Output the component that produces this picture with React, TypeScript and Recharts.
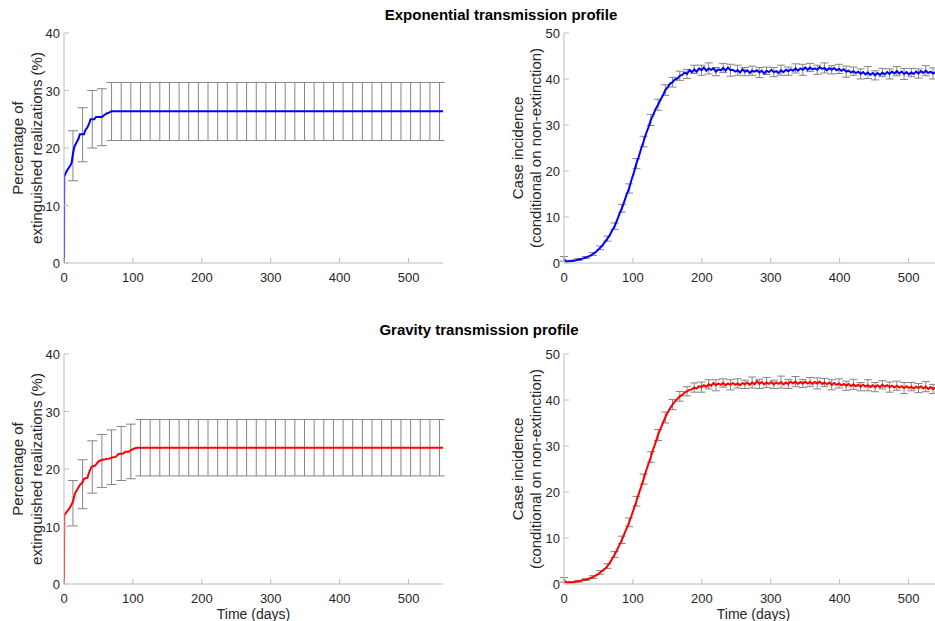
import React from "react";
import { ComposedChart, ErrorBar, Line, XAxis, YAxis } from "recharts";

const FONT = '"Liberation Sans", Arial, Helvetica, sans-serif';
const TEXT = "#262626";
const AXIS_GRAY = "#bdbdbd";
const BAR_GRAY = "#858585";
const BLUE = "#0000ff";
const RED = "#ff0000";

// axis ticks
const dayTicks = [0, 100, 200, 300, 400, 500];
const pctTicks = [0, 10, 20, 30, 40];
const caseTicks = [0, 10, 20, 30, 40, 50];

// percentage of extinguished realizations, exponential profile
const expExtDays = [0, 0.3, 3, 6, 9, 11, 13, 15, 18, 21, 23, 29, 31, 34, 37, 38.5, 44, 46.5, 55, 58, 62, 66, 69, 550];
const expExtPct = [0, 15.0, 15.8, 16.4, 16.9, 17.4, 19.0, 20.2, 20.9, 21.6, 22.4, 22.4, 23.1, 23.6, 24.4, 25.0, 25.0, 25.4, 25.4, 25.7, 26.0, 26.2, 26.4, 26.4];

// percentage of extinguished realizations, gravity profile
const gravExtDays = [0, 0.3, 3, 7, 10, 13, 15, 17, 20, 23, 27, 29, 34, 37, 40, 45, 48, 51, 56, 65, 70, 75, 79, 86, 89, 94, 97, 103, 106, 550];
const gravExtPct = [0, 11.9, 12.4, 13.0, 13.6, 14.3, 15.4, 16.0, 16.6, 17.2, 17.7, 18.3, 18.5, 19.6, 20.4, 20.6, 21.0, 21.4, 21.6, 21.8, 22.0, 22.1, 22.6, 22.7, 23.0, 23.0, 23.3, 23.6, 23.7, 23.7];

// error bars on the extinction curves (every two weeks)
const extErrDays = [13, 27, 41, 55, 69, 83, 97, 111, 125, 139, 153, 167, 181, 195, 209, 223, 237, 251, 265, 279, 293, 307, 321, 335, 349, 363, 377, 391, 405, 419, 433, 447, 461, 475, 489, 503, 517, 531, 545];
const expExtLow = [14.3, 17.6, 20.0, 20.4, 21.3, 21.3, 21.3, 21.3, 21.3, 21.3, 21.3, 21.3, 21.3, 21.3, 21.3, 21.3, 21.3, 21.3, 21.3, 21.3, 21.3, 21.3, 21.3, 21.3, 21.3, 21.3, 21.3, 21.3, 21.3, 21.3, 21.3, 21.3, 21.3, 21.3, 21.3, 21.3, 21.3, 21.3, 21.3];
const expExtHigh = [23.0, 27.0, 30.0, 30.3, 31.4, 31.4, 31.4, 31.4, 31.4, 31.4, 31.4, 31.4, 31.4, 31.4, 31.4, 31.4, 31.4, 31.4, 31.4, 31.4, 31.4, 31.4, 31.4, 31.4, 31.4, 31.4, 31.4, 31.4, 31.4, 31.4, 31.4, 31.4, 31.4, 31.4, 31.4, 31.4, 31.4, 31.4, 31.4];
const gravExtLow = [10.1, 13.1, 15.8, 16.8, 17.3, 18.0, 18.3, 18.8, 18.8, 18.8, 18.8, 18.8, 18.8, 18.8, 18.8, 18.8, 18.8, 18.8, 18.8, 18.8, 18.8, 18.8, 18.8, 18.8, 18.8, 18.8, 18.8, 18.8, 18.8, 18.8, 18.8, 18.8, 18.8, 18.8, 18.8, 18.8, 18.8, 18.8, 18.8];
const gravExtHigh = [18.0, 21.6, 24.9, 26.0, 26.8, 27.4, 27.8, 28.6, 28.6, 28.6, 28.6, 28.6, 28.6, 28.6, 28.6, 28.6, 28.6, 28.6, 28.6, 28.6, 28.6, 28.6, 28.6, 28.6, 28.6, 28.6, 28.6, 28.6, 28.6, 28.6, 28.6, 28.6, 28.6, 28.6, 28.6, 28.6, 28.6, 28.6, 28.6];

// case incidence, conditional on non-extinction
const incDays = [
  0, 3.5, 7, 10.5, 14, 17.5, 21, 24.5, 28, 31.5,
  35, 38.5, 42, 45.5, 49, 52.5, 56, 59.5, 63, 66.5,
  70, 73.5, 77, 80.5, 84, 87.5, 91, 94.5, 98, 101.5,
  105, 108.5, 112, 115.5, 119, 122.5, 126, 129.5, 133, 136.5,
  140, 143.5, 147, 150.5, 154, 157.5, 161, 164.5, 168, 171.5,
  175, 178.5, 182, 185.5, 189, 192.5, 196, 199.5, 203, 206.5,
  210, 213.5, 217, 220.5, 224, 227.5, 231, 234.5, 238, 241.5,
  245, 248.5, 252, 255.5, 259, 262.5, 266, 269.5, 273, 276.5,
  280, 283.5, 287, 290.5, 294, 297.5, 301, 304.5, 308, 311.5,
  315, 318.5, 322, 325.5, 329, 332.5, 336, 339.5, 343, 346.5,
  350, 353.5, 357, 360.5, 364, 367.5, 371, 374.5, 378, 381.5,
  385, 388.5, 392, 395.5, 399, 402.5, 406, 409.5, 413, 416.5,
  420, 423.5, 427, 430.5, 434, 437.5, 441, 444.5, 448, 451.5,
  455, 458.5, 462, 465.5, 469, 472.5, 476, 479.5, 483, 486.5,
  490, 493.5, 497, 500.5, 504, 507.5, 511, 514.5, 518, 521.5,
  525, 528.5, 532, 535.5, 539,
];
const expInc = [
  0.9, 0.3, 0.4, 0.45, 0.55, 0.6, 0.75, 0.85, 1.0, 1.2,
  1.4, 1.6, 1.95, 2.3, 2.8, 3.3, 3.9, 4.6, 5.3, 6.1,
  7.1, 8.0, 9.3, 10.7, 11.9, 13.4, 14.9, 16.2, 18.1, 19.7,
  21.6, 23.1, 24.9, 26.4, 28.1, 29.5, 31.1, 32.2, 33.5, 34.4,
  35.5, 36.4, 37.6, 38.2, 39.0, 39.3, 39.9, 40.1, 40.7, 40.9,
  41.4, 41.1, 41.9, 41.5, 42.1, 41.6, 42.3, 41.9, 42.5, 41.8,
  42.3, 42.0, 42.3, 41.6, 42.1, 41.9, 42.4, 41.8, 42.5, 41.9,
  42.0, 41.6, 41.9, 41.4, 42.1, 41.6, 41.9, 41.3, 41.8, 41.6,
  41.9, 41.4, 41.8, 41.2, 41.8, 41.5, 42.0, 41.5, 41.7, 41.3,
  41.9, 41.5, 42.0, 41.7, 42.1, 41.8, 42.3, 41.8, 42.3, 42.0,
  42.5, 42.0, 42.5, 42.1, 42.3, 42.0, 42.6, 42.2, 42.4, 41.9,
  42.4, 42.0, 42.4, 41.9, 42.2, 41.8, 42.1, 41.6, 41.8, 41.4,
  41.7, 41.3, 41.6, 41.1, 41.5, 41.0, 41.4, 40.9, 41.3, 40.8,
  41.3, 40.9, 41.4, 41.0, 41.5, 41.1, 41.6, 41.2, 41.7, 41.2,
  41.6, 41.1, 41.5, 41.0, 41.4, 41.1, 41.6, 41.2, 41.7, 41.3,
  41.8, 41.3, 41.6, 41.2, 41.5,
];
const gravInc = [
  0.9, 0.3, 0.35, 0.4, 0.45, 0.55, 0.6, 0.7, 0.85, 0.95,
  1.1, 1.3, 1.5, 1.8, 2.1, 2.5, 2.9, 3.3, 3.9, 4.6,
  5.5, 6.4, 7.4, 8.5, 9.6, 10.9, 12.1, 13.4, 14.9, 16.4,
  18.0, 19.6, 21.2, 22.8, 24.5, 26.1, 27.6, 29.3, 30.8, 32.4,
  33.7, 35.0, 36.2, 37.3, 38.2, 39.0, 39.7, 40.2, 40.8, 41.1,
  41.6, 41.9, 42.2, 42.3, 42.7, 42.5, 43.0, 42.8, 43.2, 42.9,
  43.4, 43.1, 43.7, 43.2, 43.6, 43.3, 43.7, 43.2, 43.6, 43.3,
  43.7, 43.3, 43.6, 43.2, 43.7, 43.4, 43.8, 43.3, 43.8, 43.4,
  44.1, 43.5, 43.9, 43.4, 43.8, 43.5, 43.9, 43.4, 43.8, 43.5,
  43.9, 43.4, 43.8, 43.5, 44.0, 43.6, 44.0, 43.5, 43.9, 43.6,
  44.0, 43.6, 43.9, 43.5, 43.9, 43.6, 44.0, 43.5, 43.8, 43.4,
  43.8, 43.3, 43.7, 43.3, 43.6, 43.2, 43.5, 43.1, 43.5, 43.0,
  43.4, 43.0, 43.3, 42.9, 43.3, 42.9, 43.2, 42.8, 43.2, 42.8,
  43.2, 42.8, 43.3, 42.9, 43.2, 42.8, 43.1, 42.7, 43.1, 42.7,
  43.0, 42.6, 43.0, 42.6, 42.9, 42.5, 42.9, 42.6, 43.0, 42.5,
  42.9, 42.4, 42.8, 42.4, 42.7,
];

// error bar half-widths on incidence, at every third entry of incDays
const expIncErr = [
  0.5, 0.15, 0.2, 0.2, 0.3, 0.4, 0.55, 0.7, 0.85, 1.0,
  1.1, 1.15, 1.2, 1.2, 1.15, 1.05, 1.0, 1.0, 0.9, 1.1,
  1.2, 0.9, 1.0, 1.3, 1.1, 0.9, 1.0, 1.1, 0.8, 1.0,
  1.1, 0.9, 1.0, 1.2, 0.9, 1.0, 1.1, 0.9, 1.0, 1.2,
  0.9, 1.1, 1.3, 1.0, 0.9, 1.1, 1.0, 1.2, 0.9, 1.0,
  1.1, 1.2,
];
const gravIncErr = [
  0.5, 0.15, 0.2, 0.2, 0.3, 0.4, 0.5, 0.65, 0.8, 0.95,
  1.05, 1.1, 1.15, 1.2, 1.2, 1.1, 1.05, 1.0, 1.0, 1.1,
  1.0, 1.2, 0.9, 1.1, 1.0, 0.9, 1.2, 1.0, 1.1, 0.9,
  1.3, 1.0, 1.1, 0.9, 1.0, 1.2, 0.9, 1.1, 1.0, 1.0,
  1.1, 0.9, 1.2, 1.0, 0.9, 1.1, 1.0, 1.2, 0.9, 1.0,
  1.1, 1.0,
];

type Row = { day: number; v: number; err?: number };

const lineRows = (days: number[], vals: number[]): Row[] =>
  days.map((d, i) => ({ day: d, v: vals[i] }));

const extErrRows = (low: number[], high: number[]): Row[] =>
  extErrDays.map((d, i) => ({ day: d, v: (low[i] + high[i]) / 2, err: (high[i] - low[i]) / 2 }));

const incErrRows = (vals: number[], errs: number[]): Row[] =>
  errs.map((e, k) => ({ day: incDays[k * 3], v: vals[k * 3], err: e }));

function BottomTick({ x, y, payload }: any) {
  return (
    <g>
      <line x1={x} y1={y} x2={x} y2={y - 5} stroke={AXIS_GRAY} />
      <text x={x} y={y + 19} textAnchor="middle" fontSize={13} fontFamily={FONT} fill={TEXT}>
        {payload.value}
      </text>
    </g>
  );
}

function TopTick({ x, y }: any) {
  return <line x1={x} y1={y} x2={x} y2={y + 5} stroke={AXIS_GRAY} />;
}

function LeftTick({ x, y, payload }: any) {
  return (
    <g>
      <line x1={x} y1={y} x2={x + 5} y2={y} stroke={AXIS_GRAY} />
      <text x={x - 4} y={y + 5} textAnchor="end" fontSize={13} fontFamily={FONT} fill={TEXT}>
        {payload.value}
      </text>
    </g>
  );
}

function RightTick({ x, y }: any) {
  return <line x1={x} y1={y} x2={x - 5} y2={y} stroke={AXIS_GRAY} />;
}

function YLabel({ viewBox, lines, offsets }: any) {
  const cy = viewBox.y + viewBox.height / 2;
  return (
    <g>
      {lines.map((t: string, i: number) => {
        const cx = viewBox.x + offsets[i];
        return (
          <text
            key={t}
            x={cx}
            y={cy}
            transform={`rotate(-90 ${cx} ${cy})`}
            textAnchor="middle"
            dominantBaseline="central"
            fontSize={15}
            fontFamily={FONT}
            fill={TEXT}
          >
            {t}
          </text>
        );
      })}
    </g>
  );
}

function XLabel({ viewBox }: any) {
  return (
    <text
      x={viewBox.x + viewBox.width / 2}
      y={viewBox.y + 35}
      textAnchor="middle"
      fontSize={14}
      fontFamily={FONT}
      fill={TEXT}
    >
      Time (days)
    </text>
  );
}

type PanelProps = {
  left: number;
  top: number;
  height: number;
  plotTop: number;
  yWidth: number;
  yMax: number;
  yTicks: number[];
  yLines: string[];
  yOffsets: number[];
  rows: Row[];
  errRows: Row[];
  color: string;
  errWidth: number;
  showXLabel?: boolean;
};

function Panel(p: PanelProps) {
  const width = p.yWidth + 379 + 17;
  return (
    <div style={{ position: "absolute", left: p.left, top: p.top }}>
      <ComposedChart
        width={width}
        height={p.height}
        margin={{ top: p.plotTop, right: 17, bottom: 0, left: 0 }}
      >
        <XAxis
          dataKey="day"
          type="number"
          domain={[0, 550]}
          allowDataOverflow
          ticks={dayTicks}
          interval={0}
          height={p.height - p.plotTop - 230}
          tickSize={0}
          tickMargin={0}
          tickLine={false}
          axisLine={{ stroke: AXIS_GRAY }}
          tick={(t: any) => <BottomTick {...t} />}
          label={p.showXLabel ? <XLabel /> : undefined}
        />
        <XAxis
          xAxisId="top"
          orientation="top"
          type="number"
          domain={[0, 550]}
          allowDataOverflow
          ticks={dayTicks}
          interval={0}
          height={0}
          tickSize={0}
          tickMargin={0}
          tickLine={false}
          axisLine={{ stroke: AXIS_GRAY }}
          tick={(t: any) => <TopTick {...t} />}
        />
        <YAxis
          type="number"
          domain={[0, p.yMax]}
          allowDataOverflow
          ticks={p.yTicks}
          interval={0}
          width={p.yWidth}
          tickSize={0}
          tickMargin={0}
          tickLine={false}
          axisLine={{ stroke: AXIS_GRAY }}
          tick={(t: any) => <LeftTick {...t} />}
          label={<YLabel lines={p.yLines} offsets={p.yOffsets} />}
        />
        <YAxis
          yAxisId="right"
          orientation="right"
          type="number"
          domain={[0, p.yMax]}
          allowDataOverflow
          ticks={p.yTicks}
          interval={0}
          width={0}
          tickSize={0}
          tickMargin={0}
          tickLine={false}
          axisLine={{ stroke: AXIS_GRAY }}
          tick={(t: any) => <RightTick {...t} />}
        />
        <Line
          data={p.errRows}
          dataKey="v"
          stroke="none"
          dot={false}
          activeDot={false}
          isAnimationActive={false}
        >
          <ErrorBar
            dataKey="err"
            width={p.errWidth}
            stroke={BAR_GRAY}
            strokeWidth={1}
            direction="y"
            isAnimationActive={false}
          />
        </Line>
        <Line
          data={p.rows}
          dataKey="v"
          type="linear"
          stroke={p.color}
          strokeWidth={2}
          dot={false}
          activeDot={false}
          isAnimationActive={false}
        />
      </ComposedChart>
    </div>
  );
}

export default function App() {
  const extLines = ["Percentage of", "extinguished realizations (%)"];
  const incLines = ["Case incidence", "(conditional on non-extinction)"];
  return (
    <div
      style={{
        position: "absolute",
        left: 0,
        top: 0,
        width: 935,
        height: 621,
        overflow: "hidden",
        background: "#ffffff",
        fontFamily: FONT,
      }}
    >
      <svg width={935} height={621} style={{ position: "absolute", left: 0, top: 0 }}>
        <text x={501} y={20} textAnchor="middle" fontSize={15} fontWeight="bold" fontFamily={FONT} fill="#000">
          Exponential transmission profile
        </text>
        <text x={479} y={335} textAnchor="middle" fontSize={15} fontWeight="bold" fontFamily={FONT} fill="#000">
          Gravity transmission profile
        </text>
      </svg>
      <Panel
        left={0}
        top={0}
        height={300}
        plotTop={33}
        yWidth={64}
        yMax={40}
        yTicks={pctTicks}
        yLines={extLines}
        yOffsets={[17.5, 36.5]}
        rows={lineRows(expExtDays, expExtPct)}
        errRows={extErrRows(expExtLow, expExtHigh)}
        color={BLUE}
        errWidth={5}
      />
      <Panel
        left={480}
        top={0}
        height={300}
        plotTop={33}
        yWidth={84}
        yMax={50}
        yTicks={caseTicks}
        yLines={incLines}
        yOffsets={[37.5, 55]}
        rows={lineRows(incDays, expInc)}
        errRows={incErrRows(expInc, expIncErr)}
        color={BLUE}
        errWidth={4}
      />
      <Panel
        left={0}
        top={320}
        height={301}
        plotTop={34}
        yWidth={64}
        yMax={40}
        yTicks={pctTicks}
        yLines={extLines}
        yOffsets={[17.5, 36.5]}
        rows={lineRows(gravExtDays, gravExtPct)}
        errRows={extErrRows(gravExtLow, gravExtHigh)}
        color={RED}
        errWidth={5}
        showXLabel
      />
      <Panel
        left={480}
        top={320}
        height={301}
        plotTop={34}
        yWidth={84}
        yMax={50}
        yTicks={caseTicks}
        yLines={incLines}
        yOffsets={[37.5, 55]}
        rows={lineRows(incDays, gravInc)}
        errRows={incErrRows(gravInc, gravIncErr)}
        color={RED}
        errWidth={4}
        showXLabel
      />
    </div>
  );
}
